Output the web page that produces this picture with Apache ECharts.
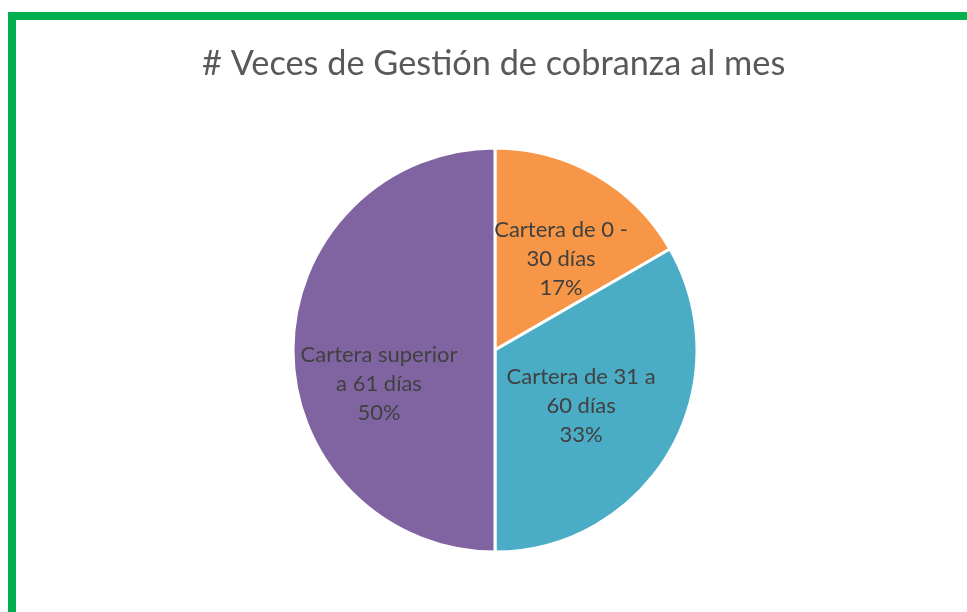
<!DOCTYPE html>
<html>
<head>
<meta charset="utf-8">
<script src="https://cdn.jsdelivr.net/npm/echarts@6/dist/echarts.min.js"></script>
<style>
  html, body { margin: 0; padding: 0; background: #fff; }
  #frame {
    position: absolute; left: 8px; top: 12px;
    width: 1000px; height: 700px;
    border-left: 8px solid #00B050; border-top: 8px solid #00B050;
  }
  #main { position: absolute; left: 0; top: 0; width: 967px; height: 612px; }
</style>
</head>
<body>
<div id="frame"></div>
<div id="main"></div>
<script>
const categories = ['Cartera de 0 -\n30 días', 'Cartera de 31 a\n60 días', 'Cartera superior\na 61 días'];
const values = [1, 2, 3];
const colors = ['#F79646', '#4BACC6', '#8064A2'];
// nudges so the labels sit where Excel put them
const labelOffsets = [[14, -1], [-4, 4], [-12, 34]];

const chart = echarts.init(document.getElementById('main'));

const option = {
  backgroundColor: 'transparent',
  title: {
    text: '# Veces de Gestión de cobranza al mes',
    left: 197,
    top: 42,
    textStyle: { fontFamily: 'Lato', fontSize: 34.3, fontWeight: 'normal', color: '#595959' }
  },
  series: [{
    type: 'pie',
    center: [495, 350],
    radius: 202,
    startAngle: 90,
    clockwise: true,
    percentPrecision: 0,
    itemStyle: { borderColor: '#fff', borderWidth: 3 },
    label: {
      position: 'inside',
      formatter: '{b}\n{d}%',
      fontFamily: 'Lato',
      fontSize: 22,
      lineHeight: 29,
      color: '#404040'
    },
    emphasis: { disabled: true },
    data: categories.map((c, i) => ({
      name: c,
      value: values[i],
      itemStyle: { color: colors[i] },
      label: { offset: labelOffsets[i] }
    }))
  }]
};

chart.setOption(option);
</script>
</body>
</html>
